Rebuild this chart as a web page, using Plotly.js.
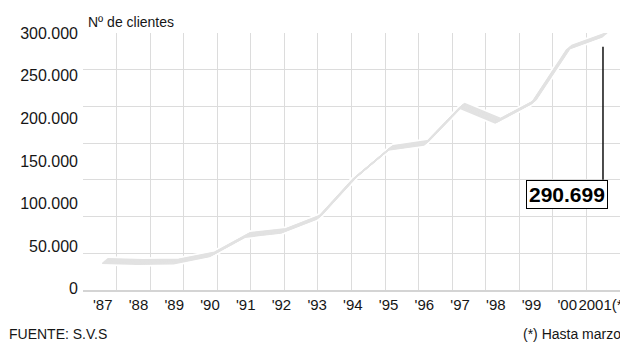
<!DOCTYPE html>
<html>
<head>
<meta charset="utf-8">
<script src="https://cdn.plot.ly/plotly-3.0.1.min.js"></script>
<style>
  html, body { margin: 0; padding: 0; background: #fff; overflow: hidden; }
  #chart { width: 620px; height: 342px; }
</style>
</head>
<body>
<div id="chart"></div>
<script>
// Clientes por año (Fuente: S.V.S). 2001: hasta marzo.
const years = [1987, 1988, 1989, 1990, 1991, 1992, 1993, 1994, 1995, 1996, 1997, 1998, 1999, 2000, 2001];
const yearLabels = ["'87", "'88", "'89", "'90", "'91", "'92", "'93", "'94", "'95", "'96", "'97", "'98", "'99", "'00", "2001(*)"];
const clients = [33100, 31900, 32500, 40500, 62700, 67300, 83200, 127700, 161900, 167600, 209800, 192700, 214300, 275900, 290699];
const yTicks = [0, 50000, 100000, 150000, 200000, 250000, 300000];

// 290699 -> "290.699"
function fmtThousands(v) {
  return String(v).replace(/\B(?=(\d{3})+(?!\d))/g, '.');
}

const W = 620, H = 342;
const M = { l: 83, r: 0, t: 33, b: 52 };
const plotW = W - M.l - M.r;
const plotH = H - M.t - M.b;

const X_RANGE = [1986.39, 2001.42];
const DATA_Y_RANGE = [0, 292600];
const LABEL_Y_RANGE = [-1500, 300100];
const pxPerYear = plotW / (X_RANGE[1] - X_RANGE[0]);
const pxPerUnit = plotH / (DATA_Y_RANGE[1] - DATA_Y_RANGE[0]);

const SANS = 'Liberation Sans, Arial, sans-serif';
const INK = '#161616';
const GRID = '#dcdcdc';

// The series is drawn like a broad-nib pen stroke: several copies of the same
// line, each on an overlaid axis pair whose range is nudged along the nib.
const NIB_ANGLE = 40 * Math.PI / 180;
const NIB_HALF = 3.5;
const NIB_STEPS = 9;
const inkOffsets = Array.from({ length: NIB_STEPS }, (_, i) => -NIB_HALF + i * 2 * NIB_HALF / (NIB_STEPS - 1));
const haloOffsets = [0, -NIB_HALF, NIB_HALF];
const strokes = haloOffsets.map(t => ({ t, color: '#ffffff', width: 5 }))
  .concat(inkOffsets.map(t => ({ t, color: '#e2e2e2', width: 1.4 })));

const layout = {
  width: W, height: H,
  margin: M,
  paper_bgcolor: '#ffffff',
  plot_bgcolor: 'rgba(0,0,0,0)',
  showlegend: false,
  font: { family: SANS, color: INK, size: 16 },
  xaxis: {
    range: X_RANGE,
    tickmode: 'array', tickvals: years, ticktext: yearLabels,
    tickfont: { family: SANS, size: 15, color: INK },
    tickangle: 0,
    ticks: '', showgrid: false, zeroline: false,
    showline: true, linecolor: '#d4d4d4', linewidth: 2,
    ticklabelshift: -2,
    ticklabeloverflow: 'allow',
    fixedrange: true
  },
  yaxis: {
    range: LABEL_Y_RANGE,
    tickmode: 'array', tickvals: yTicks, ticktext: yTicks.map(fmtThousands),
    tickfont: { family: SANS, size: 16, color: INK },
    ticks: '', showgrid: false, zeroline: false, showline: false,
    ticklabelstandoff: 4,
    fixedrange: true
  },
  // background grid: 16 columns x 7 rows
  xaxis2: {
    overlaying: 'x', range: [0, 16], dtick: 1, tick0: 0,
    showgrid: true, gridcolor: GRID, gridwidth: 1,
    showticklabels: false, ticks: '', zeroline: false, showline: false, fixedrange: true
  },
  yaxis2: {
    overlaying: 'y', range: [0, 7], dtick: 1, tick0: 0,
    showgrid: true, gridcolor: GRID, gridwidth: 1,
    showticklabels: false, ticks: '', zeroline: false, showline: false, fixedrange: true
  },
  shapes: [],
  annotations: []
};

// empty traces so the label axes and the grid axes get their subplots
const traces = [
  { type: 'scatter', mode: 'none', x: [], y: [], xaxis: 'x', yaxis: 'y', hoverinfo: 'skip' },
  { type: 'scatter', mode: 'none', x: [], y: [], xaxis: 'x2', yaxis: 'y2', hoverinfo: 'skip' }
];

strokes.forEach((s, i) => {
  const n = i + 3;
  const dx = s.t * Math.cos(NIB_ANGLE) / pxPerYear;
  const dy = s.t * Math.sin(NIB_ANGLE) / pxPerUnit;
  layout['xaxis' + n] = {
    overlaying: 'x', range: [X_RANGE[0] - dx, X_RANGE[1] - dx], visible: false, fixedrange: true
  };
  layout['yaxis' + n] = {
    overlaying: 'y', range: [DATA_Y_RANGE[0] - dy, DATA_Y_RANGE[1] - dy], visible: false, fixedrange: true
  };
  traces.push({
    type: 'scatter', mode: 'lines',
    x: years, y: clients,
    xaxis: 'x' + n, yaxis: 'y' + n,
    line: { color: s.color, width: s.width, shape: 'linear' },
    hoverinfo: 'skip'
  });
});

// callout for the last value
const lastYear = years[years.length - 1];
const lastValue = clients[clients.length - 1];
layout.shapes.push({
  type: 'line', xref: 'x3', yref: 'y3',
  xsizemode: 'pixel', ysizemode: 'pixel',
  xanchor: lastYear, yanchor: lastValue,
  x0: -2, x1: -2, y0: -12, y1: -145,
  line: { color: '#111111', width: 1.5 }
});
layout.annotations.push({
  xref: 'x3', yref: 'y3', x: lastYear, y: lastValue,
  text: '<b>' + fmtThousands(lastValue) + '</b>',
  showarrow: false, xanchor: 'right', yanchor: 'top',
  xshift: 3.5, yshift: -145,
  font: { family: SANS, size: 21, color: '#000000' },
  bgcolor: '#ffffff', bordercolor: '#000000', borderwidth: 1, borderpad: 2
});

// texts around the plot
layout.annotations.push({
  xref: 'paper', yref: 'paper', x: 0, y: 1, xanchor: 'left', yanchor: 'middle',
  xshift: 3, yshift: 11, showarrow: false,
  text: 'Nº de clientes', font: { family: SANS, size: 14, color: INK }
});
layout.annotations.push({
  xref: 'paper', yref: 'paper', x: 0, y: 0, xanchor: 'left', yanchor: 'middle',
  xshift: -76, yshift: -43.5, showarrow: false,
  text: 'FUENTE: S.V.S', font: { family: SANS, size: 14, color: INK }
});
layout.annotations.push({
  xref: 'paper', yref: 'paper', x: 0, y: 0, xanchor: 'left', yanchor: 'middle',
  xshift: 438, yshift: -44, showarrow: false,
  text: '(*) Hasta marzo', font: { family: SANS, size: 14, color: INK }
});

Plotly.newPlot('chart', traces, layout, { staticPlot: true, displayModeBar: false });
</script>
</body>
</html>
